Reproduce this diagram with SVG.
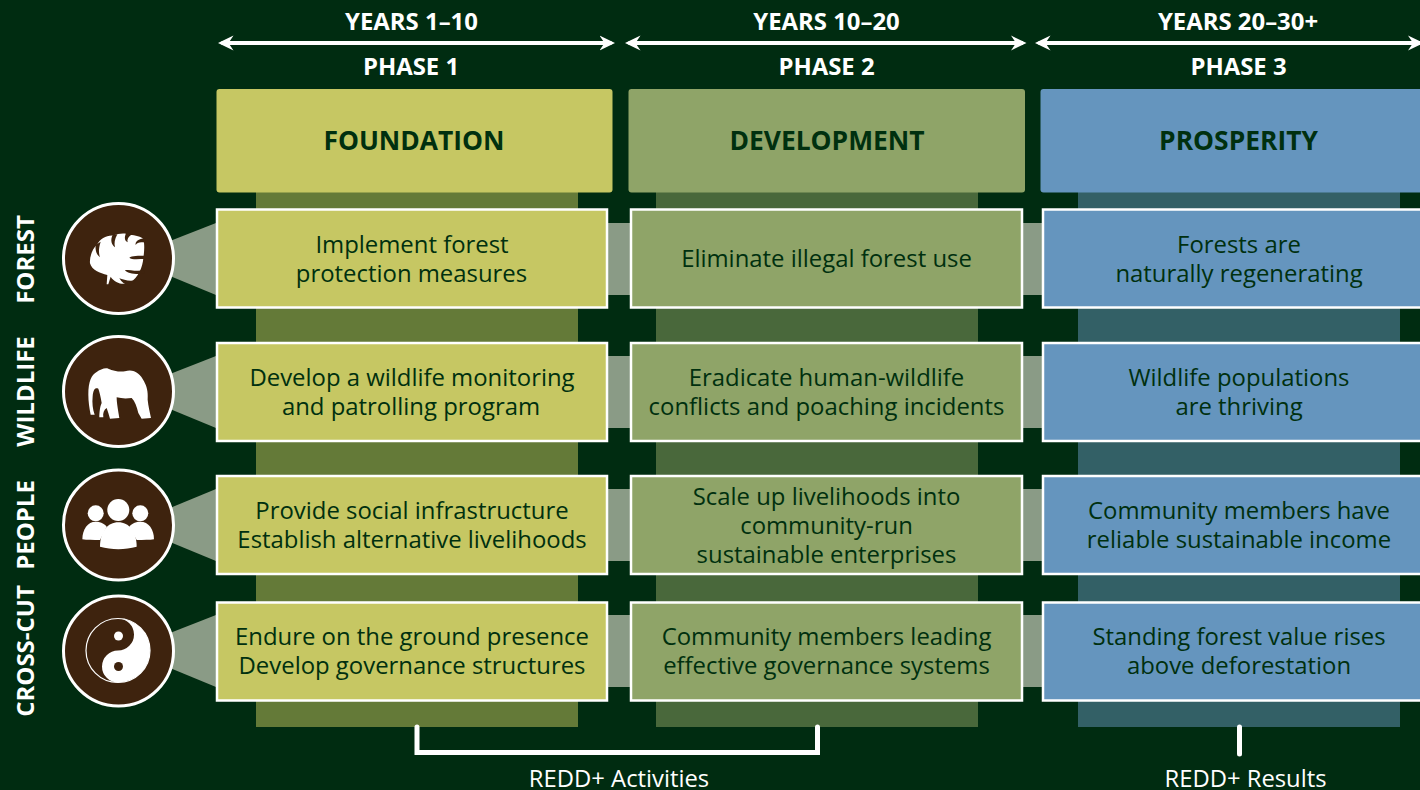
<svg xmlns="http://www.w3.org/2000/svg" width="1420" height="790" viewBox="0 0 1420 790">
<style>
text{font-family:"Open Sans","Noto Sans","Liberation Sans",sans-serif;text-anchor:middle}
.w{fill:#fff}
.hd{font-size:23.9px;font-weight:700;fill:#fff}
.ti{font-size:26.4px;font-weight:700;fill:#00300f}
.tx{font-size:23.9px;fill:#00300f}
.side{font-size:24px;font-weight:700;fill:#fff}
.ft{font-size:23.8px;fill:#fff}
.box{stroke:#fff;stroke-width:2.5}
.y{fill:#c6c763}.g{fill:#8fa468}.bl{fill:#6595be}
.band{fill:#8a9b86}
.circ{fill:#3e230e;stroke:#fff;stroke-width:3}
.ln{stroke:#fff;stroke-width:4;fill:none}
.nt{fill:#3e230e}
</style>
<defs>
<marker id="ah" viewBox="0 0 16 16" refX="12" refY="8" markerUnits="userSpaceOnUse" markerWidth="16" markerHeight="16" orient="auto-start-reverse"><path d="M15.500 8L0 .5L5 8L0 15.500Z" fill="#fff"/></marker>
</defs>
<rect width="1420" height="790" fill="#002c11"/>
<g id="columns">
<rect x="256" y="192" width="322" height="535" fill="#647a38"/>
<rect x="656" y="192" width="322" height="535" fill="#49683b"/>
<rect x="1078" y="192" width="322" height="535" fill="#336066"/>
</g>
<g id="connectors">
<path class="ln" d="M221.500 43H611.500" marker-start="url(#ah)" marker-end="url(#ah)"/>
<path class="ln" d="M628.500 43H1023" marker-start="url(#ah)" marker-end="url(#ah)"/>
<path class="ln" d="M1038.500 43H1420" marker-start="url(#ah)" marker-end="url(#ah)"/>
<path class="band" d="M170 241L216 223V295L170 276Z"/>
<path class="band" d="M170 374L216 356V428L170 409Z"/>
<path class="band" d="M170 508L216 489V561L170 542Z"/>
<path class="band" d="M170 633L216 615V687L170 668Z"/>
<rect class="band" x="606" y="223" width="26" height="72"/>
<rect class="band" x="606" y="356" width="26" height="72"/>
<rect class="band" x="606" y="489" width="26" height="72"/>
<rect class="band" x="606" y="615" width="26" height="72"/>
<rect class="band" x="1021" y="223" width="24" height="72"/>
<rect class="band" x="1021" y="356" width="24" height="72"/>
<rect class="band" x="1021" y="489" width="24" height="72"/>
<rect class="band" x="1021" y="615" width="24" height="72"/>
<path d="M417 727V752.500H817.500V727" fill="none" stroke="#fff" stroke-width="5" stroke-linecap="round"/>
<path d="M1239.500 727V754" fill="none" stroke="#fff" stroke-width="5" stroke-linecap="round"/>
</g>
<g id="years">
<text class="hd" x="411.500" y="30">YEARS 1–10</text>
<text class="hd" x="826.500" y="30">YEARS 10–20</text>
<text class="hd" x="1238" y="30">YEARS 20–30+</text>
<text class="hd" x="411" y="75">PHASE 1</text>
<text class="hd" x="826.500" y="75">PHASE 2</text>
<text class="hd" x="1238.500" y="75">PHASE 3</text>
</g>
<g id="head-foundation"><rect class="y" x="216.500" y="89" width="396" height="103.500" rx="3"/><text class="ti" x="414" y="150">FOUNDATION</text></g>
<g id="head-development"><rect class="g" x="628.500" y="89" width="396.500" height="103.500" rx="3"/><text class="ti" x="827" y="150">DEVELOPMENT</text></g>
<g id="head-prosperity"><rect class="bl" x="1040.500" y="89" width="400" height="103.500" rx="3"/><text class="ti" x="1238.500" y="150">PROSPERITY</text></g>

<g id="label-forest"><text class="side" transform="translate(33.500 259.500) rotate(-90)">FOREST</text></g>
<g id="label-wildlife"><text class="side" transform="translate(33.500 391.500) rotate(-90)">WILDLIFE</text></g>
<g id="label-people"><text class="side" transform="translate(33.500 525) rotate(-90)">PEOPLE</text></g>
<g id="label-crosscut"><text class="side" transform="translate(33.500 651) rotate(-90)">CROSS-CUT</text></g>

<g id="icon-forest"><circle class="circ" cx="118.500" cy="258.500" r="55"/>
<g transform="translate(80 225) scale(.3333)">
<path class="w" d="M82 150C60 145 35 135 30 115C28 95 38 70 52 58C60 42 80 30 100 32C115 25 135 22 150 30C165 30 185 35 190 42C195 60 192 85 190 100C188 125 175 160 150 172C130 182 105 175 92 155L85 178L80 178Z"/>
<path class="nt" d="M47 60C45 75 50 90 60 97C56 85 55 72 62 50Z"/>
<path class="nt" d="M98 30C90 45 95 60 105 67C102 55 104 42 112 28Z"/>
<path class="nt" d="M140 22C132 35 133 48 143 52C140 43 145 35 157 27Z"/>
<path class="nt" d="M195 40C175 42 165 50 167 60C172 52 180 50 196 53Z"/>
<path class="nt" d="M197 92C175 92 155 92 148 98C155 105 175 102 197 102Z"/>
<path class="nt" d="M195 135C175 140 150 135 135 135C140 145 170 150 192 146Z"/>
<path class="nt" d="M170 165C150 170 130 165 118 160C125 172 135 180 150 182Z"/>
</g></g>

<g id="icon-wildlife"><circle class="circ" cx="118.500" cy="391.500" r="55"/>
<path class="w" transform="translate(80 358) scale(.3333)" d="M25 110C25 70 35 50 50 42C60 35 75 28 85 32C100 38 115 42 135 40C160 32 180 45 192 70C200 85 205 100 203 125C205 145 210 165 213 180L185 182L175 165C170 145 165 130 155 120C140 122 125 122 110 118C110 135 115 160 118 180L90 182L85 165L80 150C72 155 68 165 70 178L58 178C58 165 60 145 65 135C62 115 58 100 55 92C45 88 40 95 38 115C36 135 38 155 44 170L32 170C28 150 25 130 25 110Z"/>
</g>

<g id="icon-people"><circle class="circ" cx="118.500" cy="525" r="55"/>
<g class="w"><circle cx="95.700" cy="513.300" r="8"/><circle cx="140.300" cy="513.300" r="8"/><circle cx="118.300" cy="510" r="11"/>
<g transform="translate(75 490) scale(.3333)">
<path d="M22 148C22 118 38 95 62 95C80 95 90 103 95 110L75 150C55 150 35 150 22 148Z"/>
<path d="M237 148C237 118 221 95 196 95C178 95 168 103 163 110L185 150C205 150 225 150 237 148Z"/>
<path d="M75 170C75 125 98 97 130 97C162 97 185 125 185 170C150 180 110 180 75 170Z"/>
</g></g></g>

<g id="icon-crosscut"><circle class="circ" cx="118.500" cy="651" r="55"/>
<circle cx="118" cy="650.500" r="32" fill="none" stroke="#fff" stroke-width="1.200"/>
<path class="w" d="M118 618.500A32 32 0 0 1 118 682.500A16 16 0 0 1 118 650.500A16 16 0 0 0 118 618.500Z"/>
<circle class="w" cx="118.500" cy="636" r="4.500"/><circle cx="118.500" cy="666.500" r="4.500" fill="#3e230e"/></g>

<g id="n-1-1"><rect class="box y" x="217" y="209.500" width="390" height="98"/><text class="tx" x="412" y="253">Implement forest</text><text class="tx" x="411.500" y="282">protection measures</text></g>
<g id="n-1-2"><rect class="box g" x="631" y="209.500" width="391" height="98"/><text class="tx" x="826.500" y="267">Eliminate illegal forest use</text></g>
<g id="n-1-3"><rect class="box bl" x="1043" y="209.500" width="390" height="98"/><text class="tx" x="1239" y="253">Forests are</text><text class="tx" x="1239" y="282">naturally regenerating</text></g>
<g id="n-2-1"><rect class="box y" x="217" y="343" width="390" height="98"/><text class="tx" x="412" y="386">Develop a wildlife monitoring</text><text class="tx" x="411" y="415">and patrolling program</text></g>
<g id="n-2-2"><rect class="box g" x="631" y="343" width="391" height="98"/><text class="tx" x="826.500" y="386">Eradicate human-wildlife</text><text class="tx" x="826.500" y="415">conflicts and poaching incidents</text></g>
<g id="n-2-3"><rect class="box bl" x="1043" y="343" width="390" height="98"/><text class="tx" x="1239" y="386">Wildlife populations</text><text class="tx" x="1239" y="415">are thriving</text></g>
<g id="n-3-1"><rect class="box y" x="217" y="476" width="390" height="98"/><text class="tx" x="412" y="519">Provide social infrastructure</text><text class="tx" x="412" y="548">Establish alternative livelihoods</text></g>
<g id="n-3-2"><rect class="box g" x="631" y="476" width="391" height="98"/><text class="tx" x="826.500" y="505">Scale up livelihoods into</text><text class="tx" x="826.500" y="534">community-run</text><text class="tx" x="826.500" y="563">sustainable enterprises</text></g>
<g id="n-3-3"><rect class="box bl" x="1043" y="476" width="390" height="98"/><text class="tx" x="1239" y="519">Community members have</text><text class="tx" x="1239" y="548">reliable sustainable income</text></g>
<g id="n-4-1"><rect class="box y" x="217" y="602.500" width="390" height="98"/><text class="tx" x="412" y="645">Endure on the ground presence</text><text class="tx" x="412" y="674">Develop governance structures</text></g>
<g id="n-4-2"><rect class="box g" x="631" y="602.500" width="391" height="98"/><text class="tx" x="826.500" y="645">Community members leading</text><text class="tx" x="826.500" y="674">effective governance systems</text></g>
<g id="n-4-3"><rect class="box bl" x="1043" y="602.500" width="390" height="98"/><text class="tx" x="1239" y="645">Standing forest value rises</text><text class="tx" x="1239" y="674">above deforestation</text></g>
<g id="footer"><text class="ft" x="619" y="787">REDD+ Activities</text><text class="ft" x="1245.500" y="787">REDD+ Results</text></g>
</svg>
